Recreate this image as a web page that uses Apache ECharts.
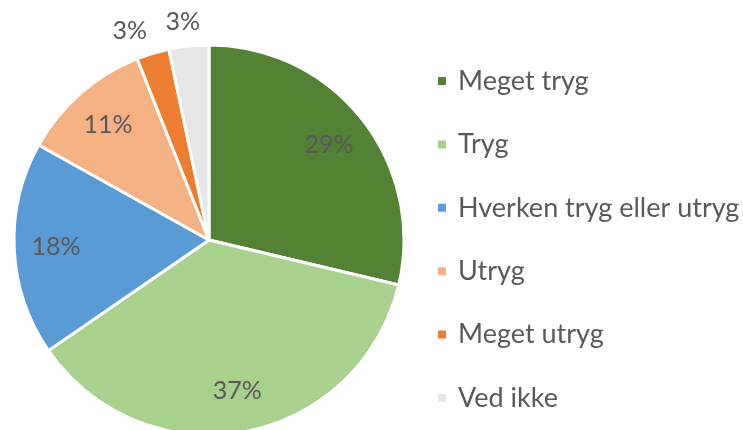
<!DOCTYPE html>
<html>
<head>
<meta charset="utf-8">
<script src="https://cdn.jsdelivr.net/npm/echarts@6/dist/echarts.min.js"></script>
<style>
  html, body { margin: 0; padding: 0; background: #fff; }
  #chart { width: 743px; height: 430px; }
</style>
</head>
<body>
<div id="chart"></div>
<script>
// kategorier og andeler (%)
var categories = ['Meget tryg', 'Tryg', 'Hverken tryg eller utryg', 'Utryg', 'Meget utryg', 'Ved ikke'];
var shares = [28.7, 36.7, 17.7, 10.9, 2.7, 3.3];
var colors = ['#548235', '#A9D18E', '#5B9BD5', '#F4B183', '#ED7D31', '#E7E6E6'];

var R = 195;
var center = [209, 240];
var fontName = 'Lato';
var textColor = '#595959';
// små justeringer af de ydre etiketter
var outerOffsets = { 4: [-15, 5], 5: [-3, 4] };

var chart = echarts.init(document.getElementById('chart'));

var pieData = categories.map(function (name, i) {
    return { name: name, value: shares[i], itemStyle: { color: colors[i] } };
});
var pct = function (p) { return Math.round(p.percent) + '%'; };

var option = {
    animation: false,
    legend: {
        orient: 'vertical',
        left: 436,
        top: 66,
        padding: 0,
        icon: 'rect',
        itemWidth: 10,
        itemHeight: 10,
        itemGap: 33.4,
        data: categories,
        textStyle: {
            fontFamily: fontName,
            fontSize: 27,
            lineHeight: 30,
            color: textColor,
            padding: [0, 0, 0, 6]
        }
    },
    series: [
        {
            type: 'pie',
            center: center,
            radius: [0, R],
            startAngle: 90,
            clockwise: true,
            data: pieData,
            itemStyle: { borderColor: '#fff', borderWidth: 3 },
            label: { show: false },
            labelLine: { show: false }
        },
        {
            // kun etiketter inde i store skiver
            type: 'pie',
            silent: true,
            center: center,
            radius: [R * 0.54, R],
            startAngle: 90,
            clockwise: true,
            legendHoverLink: false,
            data: categories.map(function (name, i) {
                return { name: name, value: shares[i], label: { show: shares[i] >= 5 } };
            }),
            itemStyle: { color: 'rgba(0,0,0,0)' },
            label: {
                position: 'inside',
                formatter: pct,
                fontFamily: fontName,
                fontSize: 25,
                color: textColor
            },
            labelLine: { show: false }
        },
        {
            // etiketter uden for små skiver
            type: 'pie',
            silent: true,
            center: center,
            radius: [R * 1.06, R * 1.2],
            startAngle: 90,
            clockwise: true,
            legendHoverLink: false,
            data: categories.map(function (name, i) {
                return {
                    name: name,
                    value: shares[i],
                    label: { show: shares[i] < 5, offset: outerOffsets[i] || [0, 0] }
                };
            }),
            itemStyle: { color: 'rgba(0,0,0,0)' },
            label: {
                position: 'inside',
                formatter: pct,
                fontFamily: fontName,
                fontSize: 25,
                color: textColor
            },
            labelLine: { show: false }
        }
    ]
};

chart.setOption(option);
window.onresize = function () {
    chart.resize();
};
</script>
</body>
</html>
